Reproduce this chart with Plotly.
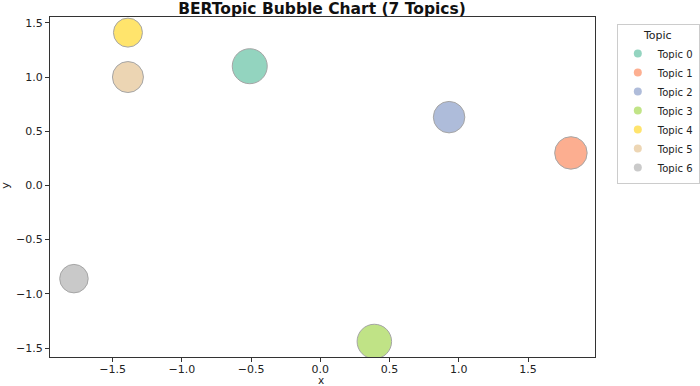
import plotly.graph_objects as go

topics = ["Topic 0", "Topic 1", "Topic 2", "Topic 3", "Topic 4", "Topic 5", "Topic 6"]
x_vals = [-0.51, 1.81, 0.93, 0.39, -1.39, -1.39, -1.78]
y_vals = [1.10, 0.30, 0.63, -1.44, 1.41, 1.00, -0.86]
bubble_sizes = [35, 32.5, 31.5, 34.5, 29, 31, 28.5]
colors = ["#66c2a5", "#fc8d62", "#8da0cb", "#a6d854", "#ffd92f", "#e5c494", "#b3b3b3"]
tick_vals = [-1.5, -1.0, -0.5, 0.0, 0.5, 1.0, 1.5]
tick_text = ["\u22121.5", "\u22121.0", "\u22120.5", "0.0", "0.5", "1.0", "1.5"]

FONT = "DejaVu Sans"

fig = go.Figure()
for name, xv, yv, sz, col in zip(topics, x_vals, y_vals, bubble_sizes, colors):
    fig.add_trace(go.Scatter(
        x=[xv], y=[yv], mode="markers", name=name, legendgroup=name,
        showlegend=False,
        marker=dict(size=sz, color=col, opacity=0.7,
                    line=dict(color="gray", width=1)),
    ))
# legend entries with small markers
for name, col in zip(topics, colors):
    fig.add_trace(go.Scatter(
        x=[None], y=[None], mode="markers", name=name, legendgroup=name,
        marker=dict(size=8, color=col, opacity=0.7, line=dict(width=0)),
    ))

axis_common = dict(
    showgrid=False, zeroline=False, showline=True, linecolor="#333333",
    linewidth=1, mirror=True, ticks="outside", ticklen=4, tickwidth=1,
    tickcolor="#333333", tickfont=dict(family=FONT, size=11, color="#222222"),
    automargin=False, tickvals=tick_vals, ticktext=tick_text,
)

fig.update_layout(
    width=700, height=386,
    paper_bgcolor="white", plot_bgcolor="white",
    margin=dict(l=50, r=105, t=17, b=29, autoexpand=False),
    font=dict(family=FONT, color="#222222"),
    title=dict(text="<b>BERTopic Bubble Chart (7 Topics)</b>",
               font=dict(family=FONT, size=15.5, color="#111111"),
               x=(322 / 700), xanchor="center", y=1, yanchor="top",
               pad=dict(t=3, b=0, l=0, r=0)),
    xaxis=dict(range=[-1.953, 1.984], ticklabelstandoff=-2, **axis_common),
    yaxis=dict(range=[-1.583, 1.554], **axis_common),
    annotations=[
        dict(text="x", xref="paper", yref="paper", x=0.498, y=-0.069,
             xanchor="center", yanchor="middle", showarrow=False,
             font=dict(family=FONT, size=10.5, color="#222222")),
        dict(text="y", xref="paper", yref="paper", x=-0.081, y=0.506,
             xanchor="center", yanchor="middle", showarrow=False, textangle=-90,
             font=dict(family=FONT, size=11, color="#222222")),
    ],
    legend=dict(title=dict(text="Topic", font=dict(family=FONT, size=11), side="top center"),
                font=dict(family=FONT, size=10), x=1.04, xanchor="left",
                y=0.98, yanchor="top", bordercolor="#cccccc", borderwidth=1,
                itemsizing="trace", itemwidth=30, tracegroupgap=0),
    showlegend=True,
)

fig.write_html("out.html")
